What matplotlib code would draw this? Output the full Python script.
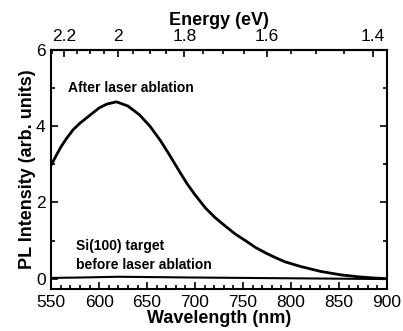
import numpy as np
import matplotlib
matplotlib.use("Agg")
import matplotlib.pyplot as plt
from matplotlib.ticker import MultipleLocator, FixedLocator

plt.rcParams['font.family'] = ['Liberation Sans', 'DejaVu Sans']

# PL spectrum after laser ablation
wl_after = [550, 555, 560, 566, 573, 580, 591, 600, 608, 618, 630, 642,
            653, 664, 674, 684, 692, 700, 711, 721, 732, 742, 753, 763,
            774, 784, 794, 810, 831, 852, 870, 885, 900]
pl_after = [2.98, 3.22, 3.45, 3.68, 3.91, 4.08, 4.30, 4.48, 4.58, 4.64,
            4.53, 4.30, 4.00, 3.62, 3.22, 2.80, 2.48, 2.20, 1.85, 1.60,
            1.37, 1.17, 0.99, 0.82, 0.67, 0.55, 0.44, 0.32, 0.19, 0.10,
            0.05, 0.02, 0.0]

# Si(100) target before ablation
wl_before = [550, 580, 620, 660, 700, 750, 800, 850, 900]
pl_before = [0.02, 0.03, 0.05, 0.04, 0.03, 0.02, 0.01, 0.0, -0.01]

energy_ticks = [2.2, 2.0, 1.8, 1.6, 1.4]
energy_labels = ["2.2", "2", "1.8", "1.6", "1.4"]
energy_minor = [2.25, 2.15, 2.1, 2.05, 1.95, 1.9, 1.85, 1.75, 1.7, 1.65,
                1.55, 1.5, 1.45]

fig = plt.figure(figsize=(4.03, 3.31), dpi=100)
ax = fig.add_axes([0.127, 0.127, 0.833, 0.722])

ax.plot(wl_after, pl_after, color='black', lw=2.0)
ax.plot(wl_before, pl_before, color='black', lw=1.5)

ax.set_xlim(550, 900)
ax.set_ylim(-0.27, 6)
ax.xaxis.set_major_locator(MultipleLocator(50))
ax.xaxis.set_minor_locator(MultipleLocator(10))
ax.yaxis.set_major_locator(MultipleLocator(2))
ax.yaxis.set_minor_locator(MultipleLocator(1))

ax.tick_params(which='both', direction='in', top=False, right=True,
               width=1.2, labelsize=12.5, pad=4)
ax.tick_params(which='major', length=5)
ax.tick_params(which='minor', length=3)
for s in ax.spines.values():
    s.set_linewidth(1.5)

ax.set_xlabel("Wavelength (nm)", fontsize=13, fontweight='bold', labelpad=0)
ax.set_ylabel("PL Intensity (arb. units)", fontsize=13, fontweight='bold',
              labelpad=0)

sec = ax.secondary_xaxis('top', functions=(lambda x: 1239.84 / x,
                                           lambda e: 1239.84 / e))
sec.xaxis.set_major_locator(FixedLocator(energy_ticks))
sec.set_xticklabels(energy_labels)
sec.xaxis.set_minor_locator(FixedLocator(energy_minor))
sec.tick_params(which='both', direction='in', width=1.2, labelsize=12.5, pad=4)
sec.tick_params(which='major', length=5)
sec.tick_params(which='minor', length=3)
sec.spines['top'].set_linewidth(1.5)
sec.set_xlabel("Energy (eV)", fontsize=13, fontweight='bold', labelpad=3)

ax.text(568, 5.0, "After laser ablation", fontsize=10, fontweight='bold',
        va='center', ha='left')
ax.text(576, 0.85, "Si(100) target", fontsize=10, fontweight='bold',
        va='center', ha='left')
ax.text(576, 0.37, "before laser ablation", fontsize=10, fontweight='bold',
        va='center', ha='left')

fig.savefig("out.png", dpi=100)
